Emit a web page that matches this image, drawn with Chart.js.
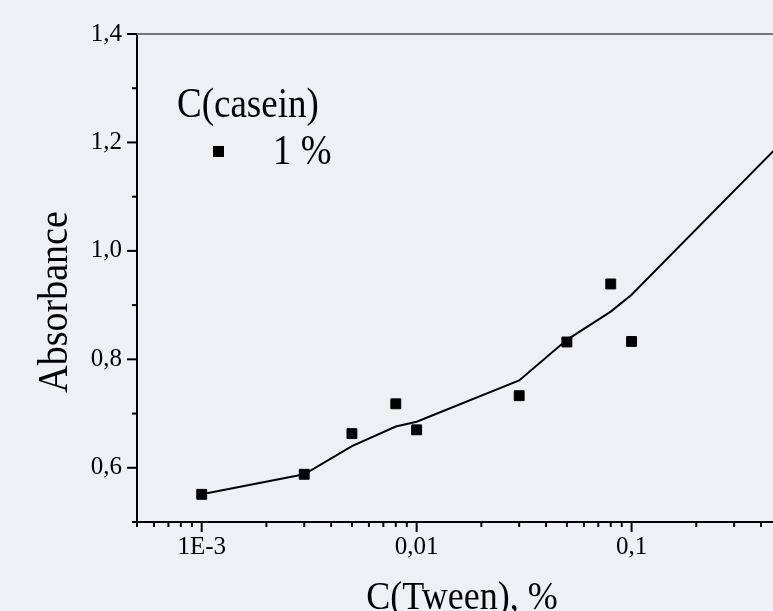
<!DOCTYPE html>
<html>
<head>
<meta charset="utf-8">
<script src="https://cdn.jsdelivr.net/npm/chart.js@4.4.1/dist/chart.umd.min.js"></script>
<style>
  html, body { margin: 0; padding: 0; background: #edf1f4; }
  canvas { display: block; }
</style>
</head>
<body>
<canvas id="absorbanceChart" width="773" height="611"></canvas>
<script>
// measured points: C(Tween), % -> absorbance (casein 1 %)
const tweenConc = [0.001, 0.003, 0.005, 0.008, 0.01, 0.03, 0.05, 0.08, 0.1];
const absorbance = [0.551, 0.588, 0.663, 0.718, 0.670, 0.733, 0.832, 0.939, 0.833];

// fitted curve
const fitConc = [0.001, 0.003, 0.005, 0.008, 0.01, 0.03, 0.05, 0.08, 0.1, 0.5];
const fitAbsorbance = [0.551, 0.588, 0.640, 0.676, 0.685, 0.761, 0.836, 0.888, 0.919, 1.20];

// axis ticks
const xMajorTicks = [0.001, 0.01, 0.1];
const xTickLabels = ["1E-3", "0,01", "0,1"];
const yMajorTicks = [0.6, 0.8, 1.0, 1.2, 1.4];
const yTickLabels = ["0,6", "0,8", "1,0", "1,2", "1,4"];

const legendTitle = "C(casein)";
const legendLabel = "1 %";
const xTitle = "C(Tween), %";
const yTitle = "Absorbance";

const serif = "'Liberation Serif', 'Times New Roman', serif";
const stretch = 1.13; // the original lettering is a bit taller than Liberation Serif

function xMajorIndex(v) {
  return xMajorTicks.findIndex((t) => Math.abs(Math.log10(v) - Math.log10(t)) < 1e-6);
}
function yMajorIndex(v) {
  return yMajorTicks.findIndex((t) => Math.abs(v - t) < 1e-6);
}

// log ticks 1..9 x 10^n between min and max
function buildLogTicks(min, max) {
  const ticks = [];
  for (let e = -4; e <= 0; e++) {
    for (let m = 1; m <= 9; m++) {
      const v = +(m * Math.pow(10, e)).toPrecision(6);
      if (v >= min - 1e-12 && v <= max) ticks.push({ value: v });
    }
  }
  return ticks;
}

function tallText(ctx, text, x, y, angle) {
  ctx.save();
  ctx.translate(x, y);
  ctx.rotate(angle || 0);
  ctx.scale(1, stretch);
  ctx.fillText(text, 0, 0);
  ctx.restore();
}

// tick marks, top frame line, legend and axis titles
const decorations = {
  id: "decorations",
  afterDraw(chart) {
    const { ctx, chartArea, scales } = chart;
    ctx.save();

    ctx.strokeStyle = "#777";
    ctx.lineWidth = 2;
    ctx.beginPath();
    ctx.moveTo(chartArea.left, chartArea.top);
    ctx.lineTo(chartArea.right, chartArea.top);
    ctx.stroke();

    ctx.strokeStyle = "#000";
    ctx.lineWidth = 2;
    scales.x.ticks.forEach((t) => {
      const x = scales.x.getPixelForValue(t.value);
      const len = xMajorIndex(t.value) >= 0 ? 10 : 5;
      ctx.beginPath();
      ctx.moveTo(x, chartArea.bottom);
      ctx.lineTo(x, chartArea.bottom + len);
      ctx.stroke();
    });
    scales.y.ticks.forEach((t) => {
      const y = scales.y.getPixelForValue(t.value);
      const len = yMajorIndex(t.value) >= 0 ? 10 : 5;
      ctx.beginPath();
      ctx.moveTo(chartArea.left, y);
      ctx.lineTo(chartArea.left - len, y);
      ctx.stroke();
    });

    // legend
    ctx.fillStyle = "#000";
    ctx.textAlign = "left";
    ctx.textBaseline = "alphabetic";
    ctx.font = "37px " + serif;
    tallText(ctx, legendTitle, 177, 117);
    ctx.fillRect(213, 146, 11, 11);
    tallText(ctx, legendLabel, 273, 164);

    // axis titles
    ctx.textAlign = "center";
    ctx.font = "36px " + serif;
    tallText(ctx, xTitle, 462, 609);

    ctx.font = "38px " + serif;
    tallText(ctx, yTitle, 67, 302, -Math.PI / 2);

    ctx.restore();
  },
};

const ctx = document.getElementById("absorbanceChart").getContext("2d");

const chart = new Chart(ctx, {
  type: "scatter",
  data: {
    datasets: [
      {
        label: "fit",
        data: fitConc.map((x, i) => ({ x: x, y: fitAbsorbance[i] })),
        showLine: true,
        borderColor: "#000",
        borderWidth: 2,
        pointRadius: 0,
        tension: 0,
      },
      {
        label: legendLabel,
        data: tweenConc.map((x, i) => ({ x: x, y: absorbance[i] })),
        pointStyle: "rect",
        pointRadius: 7,
        pointHoverRadius: 7,
        backgroundColor: "#000",
        borderColor: "#000",
        borderWidth: 1,
      },
    ],
  },
  options: {
    responsive: false,
    animation: false,
    layout: { autoPadding: false, padding: { top: 34, right: 0, bottom: 0, left: 0 } },
    plugins: {
      legend: { display: false },
      tooltip: { enabled: false },
    },
    scales: {
      x: {
        type: "logarithmic",
        min: 0.0005,
        max: 0.455,
        afterBuildTicks: (scale) => {
          scale.ticks = buildLogTicks(scale.min, scale.max);
        },
        afterFit: (scale) => {
          scale.height = 89;
          scale.paddingLeft = 0;
          scale.paddingRight = 0;
        },
        border: { display: true, color: "#000", width: 2 },
        grid: { display: true, color: "transparent", drawOnChartArea: false, drawTicks: false },
        ticks: {
          autoSkip: false,
          maxRotation: 0,
          padding: 10,
          color: "#000",
          font: { family: serif, size: 25 },
          callback: (value) => {
            const i = xMajorIndex(value);
            return i >= 0 ? xTickLabels[i] : "";
          },
        },
      },
      y: {
        type: "linear",
        min: 0.5,
        max: 1.4,
        afterFit: (scale) => {
          scale.width = 137;
        },
        border: { display: true, color: "#000", width: 2 },
        grid: { display: true, color: "transparent", drawOnChartArea: false, drawTicks: false },
        ticks: {
          stepSize: 0.1,
          autoSkip: false,
          padding: 15,
          color: "#000",
          font: { family: serif, size: 25 },
          callback: (value) => {
            const i = yMajorIndex(value);
            return i >= 0 ? yTickLabels[i] : "";
          },
        },
      },
    },
  },
  plugins: [decorations],
});
</script>
</body>
</html>
